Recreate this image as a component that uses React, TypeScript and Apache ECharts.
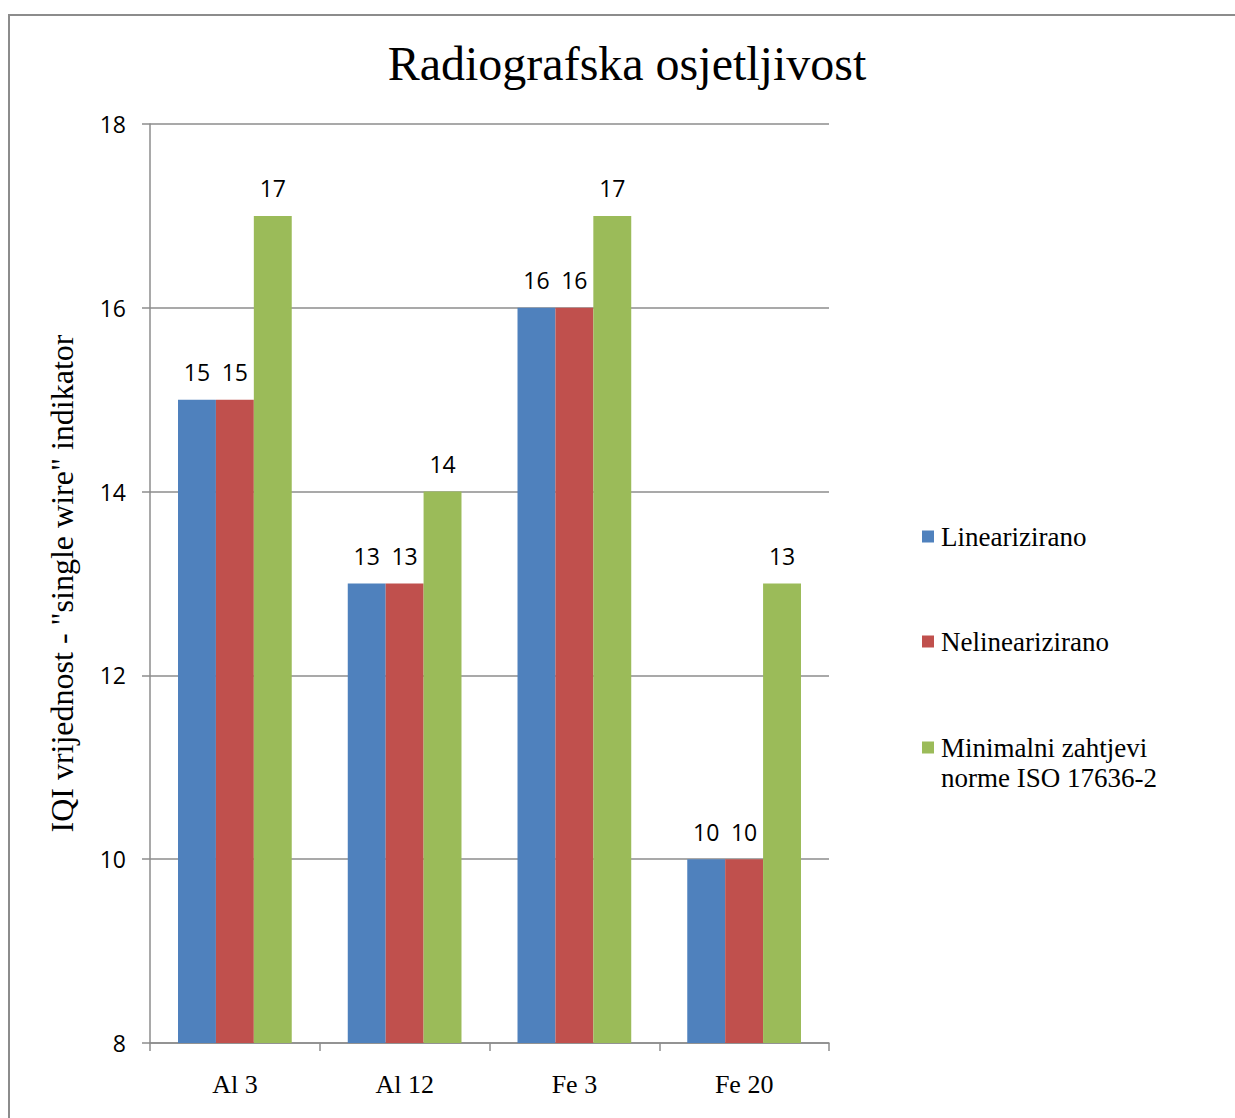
import React, { useEffect, useRef } from "react";
import * as echarts from "echarts";

const categories = ["Al 3", "Al 12", "Fe 3", "Fe 20"];
const linearizirano = [15, 13, 16, 10];
const nelinearizirano = [15, 13, 16, 10];
const minimalni = [17, 14, 17, 13];
const seriesNames = ["Linearizirano", "Nelinearizirano", "Minimalni zahtjevi norme ISO 17636-2"];
const legendFirstLines = ["Linearizirano", "Nelinearizirano", "Minimalni zahtjevi"];
const legendSecondLine = "norme ISO 17636-2";
const colors = ["#4F81BD", "#C0504D", "#9BBB59"];

const SERIF = "'Liberation Serif', 'Times New Roman', serif";
const SANS = "'Open Sans', 'Noto Sans', sans-serif";

export default function App() {
  const ref = useRef<HTMLDivElement>(null);
  useEffect(() => {
    if (!ref.current) return;
    const chart = echarts.init(ref.current, null, { renderer: "svg" });
    const values = [linearizirano, nelinearizirano, minimalni];
    const legendTops = [523, 628, 734];
    chart.setOption({
      animation: false,
      backgroundColor: "#ffffff",
      title: {
        text: "Radiografska osjetljivost",
        left: 627,
        textAlign: "center",
        top: 39,
        padding: 0,
        textStyle: { fontFamily: SERIF, fontSize: 48, fontWeight: "normal", color: "#000" },
      },
      legend: seriesNames.map((n, i) => ({
        data: [n],
        left: 922,
        top: legendTops[i],
        padding: 0,
        orient: "vertical",
        icon: "rect",
        itemWidth: 12,
        itemHeight: 12,
        itemGap: 8,
        formatter: () => legendFirstLines[i],
        textStyle: { fontFamily: SERIF, fontSize: 27, color: "#000", padding: [0, 0, 0, 2] },
        selectedMode: false,
      })),
      graphic: [
        {
          type: "rect",
          shape: { x: 9, y: 15, width: 1300, height: 1200 },
          style: { fill: "none", stroke: "#8c8c8c", lineWidth: 2 },
          silent: true,
        },
        {
          type: "text",
          left: 941,
          top: 764,
          style: { text: legendSecondLine, fontFamily: SERIF, fontSize: 27, fill: "#000" },
        },
      ],
      grid: { left: 150, top: 124, width: 679, height: 919 },
      xAxis: {
        type: "category",
        data: categories,
        axisLine: { lineStyle: { color: "#8c8c8c", width: 1.5 } },
        axisTick: { show: true, length: 8, lineStyle: { color: "#8c8c8c", width: 1.5 } },
        axisLabel: { fontFamily: SERIF, fontSize: 26, color: "#000", margin: 28 },
      },
      yAxis: {
        type: "value",
        min: 8,
        max: 18,
        interval: 2,
        name: 'IQI vrijednost - "single wire" indikator',
        nameLocation: "middle",
        nameGap: 72,
        nameTextStyle: { fontFamily: SERIF, fontSize: 32, color: "#000" },
        axisLine: { show: true, lineStyle: { color: "#8c8c8c", width: 1.5 } },
        axisTick: { show: true, length: 8, lineStyle: { color: "#8c8c8c", width: 1.5 } },
        axisLabel: { fontFamily: SANS, fontSize: 23, color: "#000", margin: 24 },
        splitLine: { lineStyle: { color: "#8c8c8c", width: 1.5 } },
      },
      series: seriesNames.map((n, i) => ({
        name: n,
        type: "bar",
        data: values[i],
        itemStyle: { color: colors[i] },
        barGap: "0%",
        barCategoryGap: "33%",
        label: {
          show: true,
          position: "top",
          distance: 16,
          fontFamily: SANS,
          fontSize: 23,
          color: "#000",
        },
      })),
    });
    return () => chart.dispose();
  }, []);
  return (
    <div
      ref={ref}
      style={{ position: "fixed", left: 0, top: 0, width: 1235, height: 1118 }}
    />
  );
}
